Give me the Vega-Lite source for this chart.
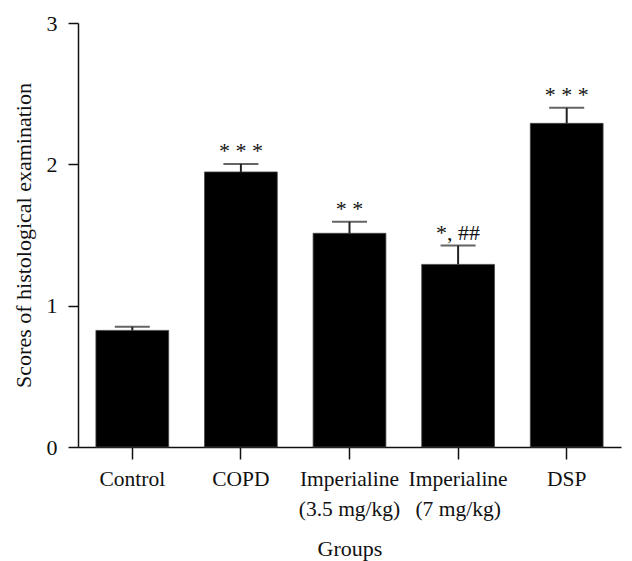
{
  "$schema": "https://vega.github.io/schema/vega-lite/v6.json",
  "width": 543,
  "height": 424,
  "autosize": {"type": "none"},
  "padding": {"left": 78, "top": 23, "right": 11, "bottom": 114},
  "background": "white",
  "config": {
    "view": {"stroke": null},
    "font": "Liberation Serif",
    "axis": {"grid": false, "domainColor": "#111", "domainWidth": 1.5, "tickColor": "#111", "tickWidth": 1.5, "labelColor": "#111", "titleColor": "#111", "labelFont": "Liberation Serif", "titleFont": "Liberation Serif", "titleFontWeight": "normal"}
  },
  "data": {
    "values": [
      {"group": "Control", "mean": 0.825, "upper": 0.851, "sig": ""},
      {"group": "COPD", "mean": 1.946, "upper": 2.003, "sig": "* * *"},
      {"group": "Imperialine (3.5 mg/kg)", "mean": 1.512, "upper": 1.594, "sig": "* *"},
      {"group": "Imperialine (7 mg/kg)", "mean": 1.292, "upper": 1.425, "sig": "*, ##"},
      {"group": "DSP", "mean": 2.29, "upper": 2.40, "sig": "* * *"}
    ]
  },
  "encoding": {
    "x": {
      "field": "group", "type": "nominal", "sort": null,
      "scale": {"paddingInner": 0.33, "paddingOuter": 0.165},
      "axis": {
        "title": "Groups", "labelAngle": 0, "labelFontSize": 21.5, "titleFontSize": 22,
        "tickSize": 12, "labelPadding": 9, "titlePadding": 19, "labelLineHeight": 30,
        "labelExpr": "split(replace(datum.label, ' (', '|('), '|')"
      }
    }
  },
  "layer": [
    {
      "mark": {"type": "bar", "color": "black", "stroke": "#444", "strokeWidth": 0.8},
      "encoding": {
        "y": {
          "field": "mean", "type": "quantitative",
          "scale": {"domain": [0, 3], "nice": false},
          "axis": {"title": "Scores of histological examination", "values": [0, 1, 2, 3], "format": "d", "labelFontSize": 22, "titleFontSize": 22, "tickSize": 10, "labelPadding": 11, "titlePadding": 11}
        }
      }
    },
    {
      "mark": {"type": "rule", "color": "#222", "strokeWidth": 2},
      "encoding": {
        "y": {"field": "mean", "type": "quantitative"},
        "y2": {"field": "upper"}
      }
    },
    {
      "mark": {"type": "tick", "color": "#222", "thickness": 2, "size": 35},
      "encoding": {
        "y": {"field": "upper", "type": "quantitative"}
      }
    },
    {
      "mark": {"type": "text", "fontSize": 22, "color": "#111", "baseline": "alphabetic", "dy": -6},
      "encoding": {
        "y": {"field": "upper", "type": "quantitative"},
        "text": {"field": "sig"}
      }
    }
  ]
}
